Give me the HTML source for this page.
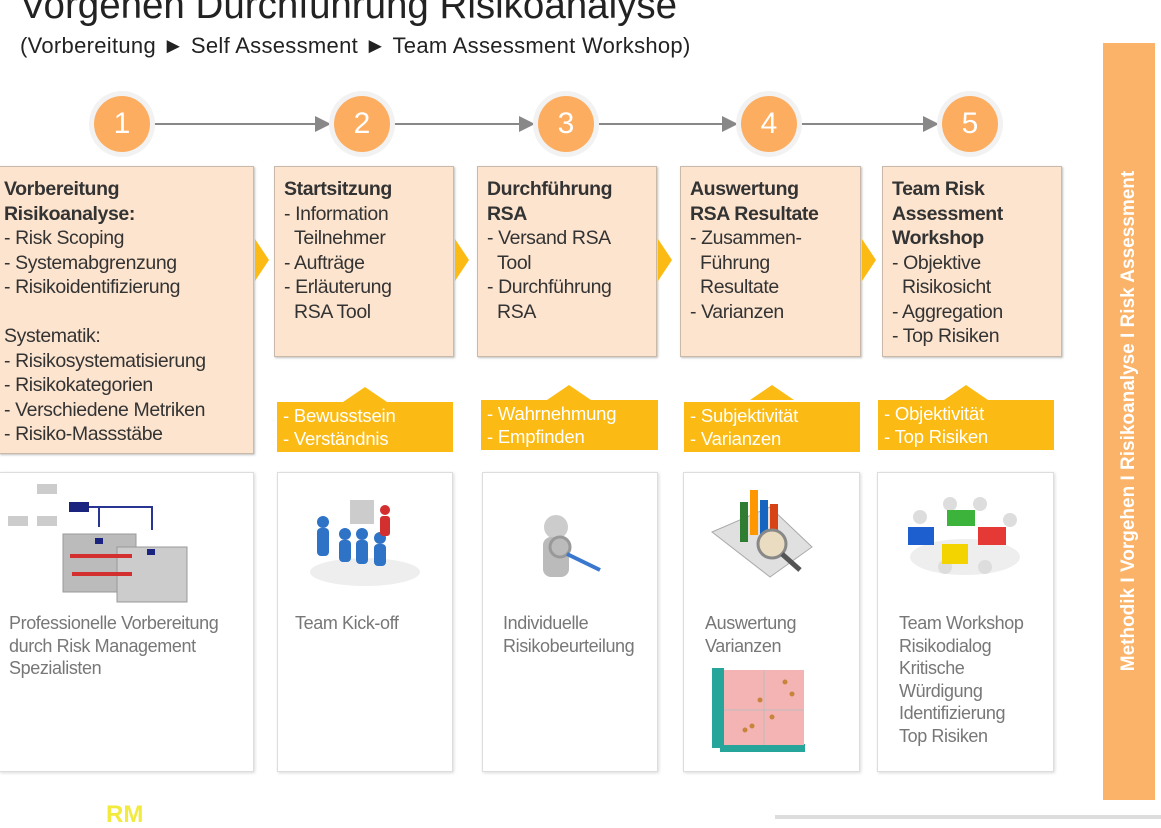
<!DOCTYPE html>
<html><head><meta charset="utf-8"><style>
*{margin:0;padding:0;box-sizing:border-box}
body{width:1161px;height:819px;overflow:hidden;background:#fff;position:relative;font-family:"Liberation Sans",Arial,sans-serif;color:#222}
.a{position:absolute}
.box{position:absolute;background:#fde4cf;border:1px solid #c9b9a9;box-shadow:1px 1px 2px rgba(0,0,0,.25);font-size:19.5px;line-height:24.5px;padding:10px 0 0 6px;color:#333;white-space:nowrap;letter-spacing:-0.4px}
.band{position:absolute;background:#fbbb14;color:#fff;font-size:18.5px;line-height:23px;padding:2px 0 0 6px;height:50px;white-space:nowrap;letter-spacing:-0.2px}
.tri{position:absolute;width:0;height:0;border-left:22px solid transparent;border-right:22px solid transparent;border-bottom:15px solid #fbbb14}
.chev{position:absolute;width:0;height:0;border-top:21px solid transparent;border-bottom:21px solid transparent;border-left:14px solid #fbbb14}
.card{position:absolute;top:472px;height:300px;background:#fff;border:1px solid #ddd;box-shadow:1px 1px 3px rgba(0,0,0,.15)}
.ct{position:absolute;font-size:18px;line-height:22.5px;color:#777;white-space:nowrap;letter-spacing:-0.4px}
.circ{position:absolute;width:66px;height:66px;border-radius:50%;background:#f2f2f2;top:91px}
.circ div{position:absolute;left:5px;top:5px;width:56px;height:56px;border-radius:50%;background:#fcad60;color:#fff;font-size:30px;line-height:56px;text-align:center}
</style></head><body>
<div class="a" style="left:20px;top:-16px;font-size:38.5px;white-space:nowrap">Vorgehen Durchführung Risikoanalyse</div>
<div class="a" style="left:20px;top:33px;font-size:22px;white-space:nowrap;letter-spacing:0.3px">(Vorbereitung ► Self Assessment ► Team Assessment Workshop)</div>

<svg class="a" style="left:0;top:0" width="1161" height="819">
<defs><marker id="m" markerWidth="8" markerHeight="8" refX="7" refY="4" orient="auto"><path d="M0,0 L8,4 L0,8z" fill="#888"/></marker></defs>
<g stroke="#888" stroke-width="2" fill="none" marker-end="url(#m)">
<line x1="155" y1="124" x2="329" y2="124"/>
<line x1="395" y1="124" x2="533" y2="124"/>
<line x1="599" y1="124" x2="736" y2="124"/>
<line x1="802" y1="124" x2="937" y2="124"/>
</g>
<rect x="775" y="815" width="386" height="4" fill="#ddd"/>
</svg>
<div class="circ" style="left:89px"><div>1</div></div>
<div class="circ" style="left:329px"><div>2</div></div>
<div class="circ" style="left:533px"><div>3</div></div>
<div class="circ" style="left:736px"><div>4</div></div>
<div class="circ" style="left:937px"><div>5</div></div>

<div class="box" style="left:-1px;top:166px;width:255px;height:288px;padding-left:4px"><b>Vorbereitung<br>Risikoanalyse:</b><br>- Risk Scoping<br>- Systemabgrenzung<br>- Risikoidentifizierung<br><br>Systematik:<br>- Risikosystematisierung<br>- Risikokategorien<br>- Verschiedene Metriken<br>- Risiko-Massstäbe</div>
<div class="box" style="left:274px;top:166px;width:180px;height:191px;padding-left:9px"><b>Startsitzung</b><br>- Information<br>&nbsp;&nbsp;Teilnehmer<br>- Aufträge<br>- Erläuterung<br>&nbsp;&nbsp;RSA Tool</div>
<div class="box" style="left:477px;top:166px;width:180px;height:191px;padding-left:9px"><b>Durchführung<br>RSA</b><br>- Versand RSA<br>&nbsp;&nbsp;Tool<br>- Durchführung<br>&nbsp;&nbsp;RSA</div>
<div class="box" style="left:680px;top:166px;width:181px;height:191px;padding-left:9px"><b>Auswertung<br>RSA Resultate</b><br>- Zusammen-<br>&nbsp;&nbsp;Führung<br>&nbsp;&nbsp;Resultate<br>- Varianzen</div>
<div class="box" style="left:882px;top:166px;width:180px;height:191px;padding-left:9px"><b>Team Risk<br>Assessment<br>Workshop</b><br>- Objektive<br>&nbsp;&nbsp;Risikosicht<br>- Aggregation<br>- Top Risiken</div>
<div class="chev" style="left:255px;top:239px"></div>
<div class="chev" style="left:455px;top:239px"></div>
<div class="chev" style="left:658px;top:239px"></div>
<div class="chev" style="left:862px;top:239px"></div>

<div class="tri" style="left:343px;top:387px"></div>
<div class="tri" style="left:547px;top:385px"></div>
<div class="tri" style="left:750px;top:385px"></div>
<div class="tri" style="left:944px;top:385px"></div>
<div class="band" style="left:277px;top:402px;width:176px">- Bewusstsein<br>- Verständnis</div>
<div class="band" style="left:481px;top:400px;width:177px">- Wahrnehmung<br>- Empfinden</div>
<div class="band" style="left:684px;top:402px;width:176px">- Subjektivität<br>- Varianzen</div>
<div class="band" style="left:878px;top:400px;width:176px">- Objektivität<br>- Top Risiken</div>

<div class="card" style="left:-1px;width:255px"></div>
<div class="card" style="left:277px;width:176px"></div>
<div class="card" style="left:482px;width:176px"></div>
<div class="card" style="left:683px;width:177px"></div>
<div class="card" style="left:877px;width:177px"></div>

<svg class="a" style="left:0;top:472px" width="1061" height="300">
<rect x="37" y="12" width="20" height="10" fill="#ccc"/><rect x="8" y="44" width="20" height="10" fill="#ccc"/><rect x="37" y="44" width="20" height="10" fill="#ccc"/>
<rect x="69" y="30" width="20" height="10" fill="#1a237e"/>
<path d="M89,35 H152 V58 M99,35 V55" stroke="#283593" stroke-width="2" fill="none"/>
<rect x="63" y="62" width="73" height="58" fill="#bbb" stroke="#999"/>
<rect x="117" y="75" width="70" height="55" fill="#ccc" stroke="#999"/>
<rect x="70" y="82" width="62" height="4" fill="#d32f2f"/><rect x="72" y="100" width="60" height="4" fill="#d32f2f"/>
<rect x="95" y="66" width="8" height="6" fill="#1a237e"/><rect x="147" y="77" width="8" height="6" fill="#1a237e"/>
<rect x="350" y="28" width="24" height="24" fill="#ccc"/>
<ellipse cx="365" cy="100" rx="55" ry="14" fill="#eee"/>
<g fill="#2f73c6"><circle cx="323" cy="50" r="6"/><rect x="317" y="56" width="12" height="28" rx="4"/><circle cx="345" cy="62" r="6"/><rect x="339" y="68" width="12" height="22" rx="4"/><circle cx="362" cy="62" r="6"/><rect x="356" y="68" width="12" height="24" rx="4"/><circle cx="380" cy="66" r="6"/><rect x="374" y="72" width="12" height="22" rx="4"/></g>
<circle cx="385" cy="38" r="5" fill="#d32f2f"/><rect x="380" y="44" width="10" height="20" rx="3" fill="#d32f2f"/>
<circle cx="556" cy="55" r="12" fill="#ccc"/><rect x="543" y="65" width="26" height="40" rx="8" fill="#bbb"/>
<circle cx="560" cy="75" r="10" fill="none" stroke="#999" stroke-width="3"/><line x1="567" y1="82" x2="600" y2="98" stroke="#3a78d0" stroke-width="4"/>
<path d="M712,60 L770,35 L812,75 L770,105z" fill="#e0e0e0" stroke="#aaa"/>
<rect x="740" y="30" width="8" height="40" fill="#2e7d32"/><rect x="750" y="18" width="8" height="45" fill="#ff9800"/><rect x="760" y="28" width="8" height="35" fill="#1565c0"/><rect x="770" y="32" width="8" height="30" fill="#d84315"/>
<circle cx="772" cy="72" r="14" fill="#e9dcc0" stroke="#888" stroke-width="3"/><line x1="782" y1="82" x2="800" y2="98" stroke="#555" stroke-width="5"/>
<rect x="712" y="196" width="12" height="80" fill="#26a69a"/><rect x="720" y="272" width="85" height="8" fill="#26a69a"/>
<rect x="724" y="198" width="80" height="75" fill="#f4b4b4"/><line x1="764" y1="198" x2="764" y2="273" stroke="#bbb"/><line x1="724" y1="238" x2="804" y2="238" stroke="#bbb"/>
<g fill="#c8843a"><circle cx="785" cy="210" r="2.5"/><circle cx="792" cy="222" r="2.5"/><circle cx="760" cy="228" r="2.5"/><circle cx="752" cy="254" r="2.5"/><circle cx="745" cy="258" r="2.5"/><circle cx="772" cy="245" r="2.5"/></g>
<ellipse cx="965" cy="85" rx="55" ry="18" fill="#eee"/>
<g fill="#ddd"><circle cx="920" cy="45" r="7"/><circle cx="950" cy="32" r="7"/><circle cx="980" cy="32" r="7"/><circle cx="1010" cy="48" r="7"/><circle cx="945" cy="95" r="7"/><circle cx="985" cy="95" r="7"/></g>
<rect x="908" y="55" width="26" height="18" fill="#1e5fd0"/><rect x="947" y="38" width="28" height="16" fill="#3cb43c"/><rect x="978" y="55" width="28" height="18" fill="#e53935"/><rect x="942" y="72" width="26" height="20" fill="#f4d400"/>
</svg>

<div class="ct" style="left:9px;top:612px">Professionelle Vorbereitung<br>durch Risk Management<br>Spezialisten</div>
<div class="ct" style="left:295px;top:612px">Team Kick-off</div>
<div class="ct" style="left:503px;top:612px">Individuelle<br>Risikobeurteilung</div>
<div class="ct" style="left:705px;top:612px">Auswertung<br>Varianzen</div>
<div class="ct" style="left:899px;top:612px">Team Workshop<br>Risikodialog<br>Kritische<br>Würdigung<br>Identifizierung<br>Top Risiken</div>

<div class="a" style="left:1103px;top:43px;width:52px;height:757px;background:#fbb36a"></div>
<div class="a" style="left:1129px;top:421px;transform:translate(-50%,-50%) rotate(-90deg);white-space:nowrap;color:#fff;font-weight:bold;font-size:19px">Methodik I Vorgehen I Risikoanalyse I Risk Assessment</div>

<div class="a" style="left:106px;top:803px;font-size:24px;font-weight:bold;color:#f2ea3c;line-height:24px">RM</div>
</body></html>
